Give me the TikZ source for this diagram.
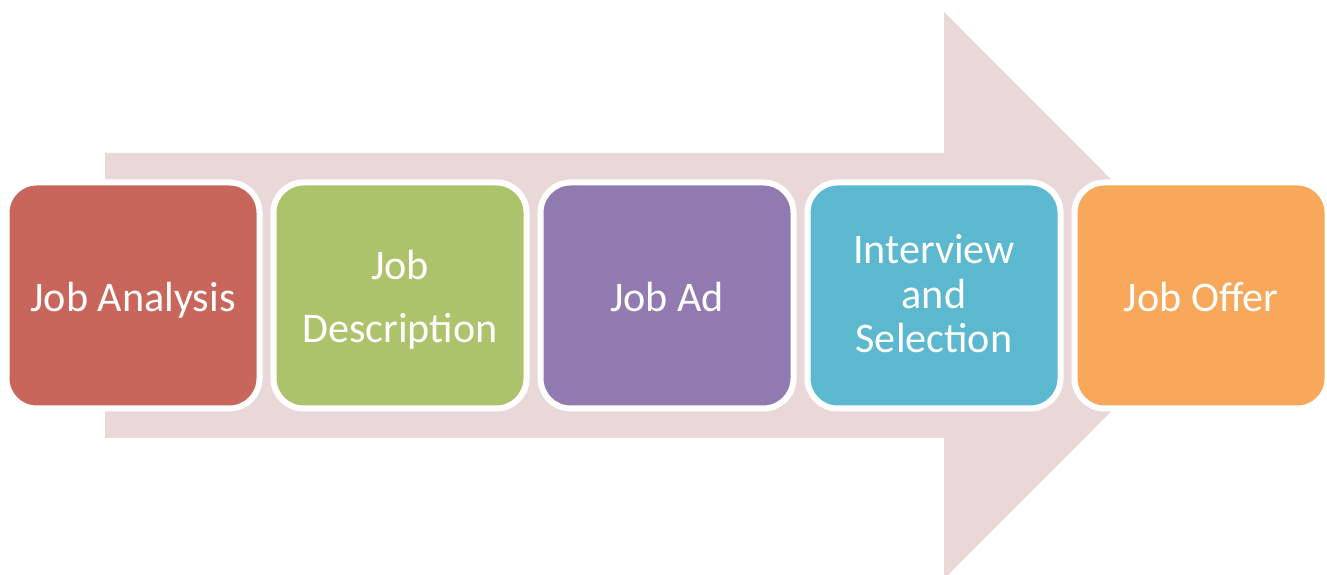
\documentclass[tikz,border=0pt]{standalone}
\usepackage{xcolor}
\usepackage{fontspec}
\setmainfont{Carlito}
\usepackage{tikz}
\usetikzlibrary{positioning}
\definecolor{jobred}{RGB}{201, 102, 91}
\definecolor{jobgreen}{RGB}{173, 195, 107}
\definecolor{jobpurple}{RGB}{145, 122, 176}
\definecolor{jobblue}{RGB}{91, 184, 207}
\definecolor{joborange}{RGB}{248, 168, 90}
\definecolor{jobarrow}{RGB}{234, 216, 216}

\begin{document}
\begin{tikzpicture}[
        node distance=0.16cm,
        stage/.style={draw=white, line width=0.12cm, rounded corners=0.6cm, minimum width=5.06cm, minimum height=4.52cm, align=center, text=white, text height=0.66cm, text depth=0cm, font=\fontsize{24}{29}\selectfont}
    ]
        \useasboundingbox (0,0) rectangle (26.54,11.5);

        % Background arrow
        \fill[jobarrow] (2.1,8.44) -- (18.88,8.44) -- (18.88,11.26) -- (24.54,5.59)
            -- (18.88,-0.08) -- (18.88,2.74) -- (2.1,2.74) -- cycle;

        % Stages
        \node[stage, fill=jobred] (analysis) at (2.66,5.59) {Job Analysis};
        \node[stage, fill=jobgreen, right=of analysis, text height=1.9cm, font=\fontsize{24}{36}\selectfont] (description) {Job\\Description};
        \node[stage, fill=jobpurple, right=of description] (ad) {Job Ad};
        \node[stage, fill=jobblue, right=of ad, text height=2.3cm, font=\fontsize{24}{25.5}\selectfont] (interview) {Interview\\and\\Selection};
        \node[stage, fill=joborange, right=of interview] (offer) {Job Offer};
    \end{tikzpicture}
\end{document}
